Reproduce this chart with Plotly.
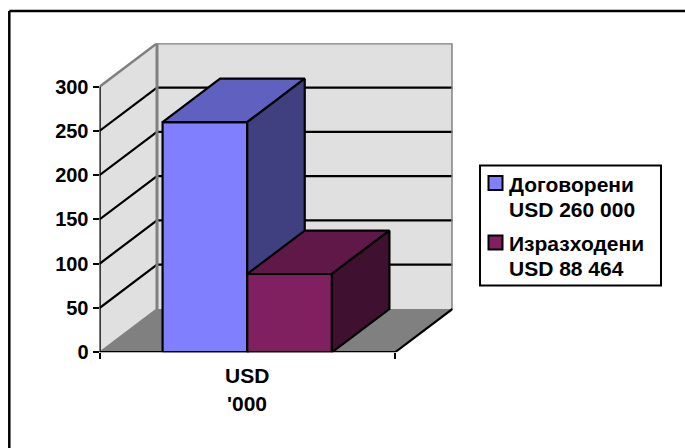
import plotly.graph_objects as go

# Data
category = "USD"
category_sub = "'000"
series_names = ["Договорени", "Изразходени"]
series_labels = ["USD 260 000", "USD 88 464"]
series_values = [260, 88.464]
tick_values = [0, 50, 100, 150, 200, 250, 300]
x_tick_values = [0, 1]

# Colours
front_colors = ["#8080FF", "#802060"]
top_colors = ["#6060C0", "#601848"]
side_colors = ["#404080", "#401030"]
WALL = "#E0E0E0"
FLOOR = "#808080"
EDGE = "#808080"
FONT = "Liberation Sans, Arial, sans-serif"

W, H = 685, 448
L, R, T, B = 99.5, 452.7, 43.3, 352.3   # plot box in pixels
PX_PER_X = 295.5
DX = 57.5 / PX_PER_X                    # depth along x, category units
DY = 49.0                               # depth along y, value units
XMAX = (R - L) / PX_PER_X
YMAX = tick_values[-1] + DY
GAP = 1.49                              # total gap as share of bar width

fig = go.Figure()


def poly(xs, ys, fill=None, line=None, width=2.2):
    kw = dict(x=xs, y=ys, mode="lines", hoverinfo="skip", showlegend=False, cliponaxis=False)
    if fill:
        kw.update(fill="toself", fillcolor=fill)
    kw["line"] = dict(color=line or "rgba(0,0,0,0)", width=width if line else 0, shape="linear")
    fig.add_trace(go.Scatter(**kw))


top = tick_values[-1]
# walls and floor
poly([0, DX, DX, 0, 0], [0, DY, top + DY, top, 0], fill=WALL)
poly([DX, 1 + DX, 1 + DX, DX, DX], [DY, DY, top + DY, top + DY, DY], fill=WALL)
poly([0, DX, 1 + DX, 1, 0], [0, DY, DY, 0, 0], fill=FLOOR)

# gridlines
for v in tick_values[1:-1]:
    poly([0, DX, 1 + DX], [v, v + DY, v + DY], line="#000000")

# wall edges
poly([0, DX, 1 + DX, 1 + DX], [top, top + DY, top + DY, DY], line=EDGE, width=2.5)
poly([DX, DX], [DY, top + DY], line=EDGE, width=3)
poly([0, DX], [0, DY], line=EDGE, width=1.5)

# front edges and axes
poly([1, 1 + DX], [0, DY], line="#000000")
poly([0, 0], [0, top], line="#000000", width=2.5)

# bars
n = len(series_values)
bar_w = 1 / (n + GAP)
start = GAP * bar_w / 2
for i, v in enumerate(series_values):
    x0 = start + i * bar_w
    x1 = x0 + bar_w
    poly([x0, x1, x1, x0, x0], [0, 0, v, v, 0], fill=front_colors[i], line="#000000")
    poly([x0, x1, x1 + DX, x0 + DX, x0], [v, v, v + DY, v + DY, v], fill=top_colors[i], line="#000000")
    poly([x1, x1 + DX, x1 + DX, x1, x1], [0, DY, v + DY, v, 0], fill=side_colors[i], line="#000000")

poly([0, 1], [0, 0], line="#000000", width=2.5)

shapes = [
    # outer frame: top and left edges only
    dict(type="line", xref="paper", yref="paper", x0=9.3 / W, x1=1, y0=1 - 11 / H, y1=1 - 11 / H,
         line=dict(color="#000000", width=2.5)),
    dict(type="line", xref="paper", yref="paper", x0=9.3 / W, x1=9.3 / W, y0=0, y1=1 - 11 / H,
         line=dict(color="#000000", width=2.5)),
    # legend box
    dict(type="rect", xref="paper", yref="paper", x0=480 / W, x1=661 / W, y0=1 - 285.5 / H, y1=1 - 165.5 / H,
         line=dict(color="#000000", width=2), fillcolor="#FFFFFF"),
]
swatch_y = [183, 242.5]
line_y = [(184, 209), (243, 268)]
ann = []
for i in range(n):
    shapes.append(dict(type="rect", xref="paper", yref="paper",
                       x0=488.5 / W, x1=502.5 / W,
                       y0=1 - (swatch_y[i] + 7) / H, y1=1 - (swatch_y[i] - 7) / H,
                       line=dict(color="#000000", width=2), fillcolor=front_colors[i]))
    for txt, y in zip((series_names[i], series_labels[i]), line_y[i]):
        ann.append(dict(text=f"<b>{txt}</b>", xref="paper", yref="paper", x=507 / W, y=1 - y / H,
                        xanchor="left", yanchor="middle", showarrow=False,
                        font=dict(family=FONT, size=21, color="#000000")))

for txt, y in ((category, 375), (category_sub, 403)):
    ann.append(dict(text=f"<b>{txt}</b>", xref="x", yref="paper", x=0.5, y=1 - y / H,
                    xanchor="center", yanchor="middle", showarrow=False,
                    font=dict(family=FONT, size=21, color="#000000")))

fig.update_layout(
    width=W, height=H, autosize=False, margin=dict(l=0, r=0, t=0, b=0, autoexpand=False),
    paper_bgcolor="#FFFFFF", plot_bgcolor="#FFFFFF", showlegend=False,
    shapes=shapes, annotations=ann,
    xaxis=dict(domain=[L / W, R / W], range=[0, XMAX], tickmode="array", tickvals=x_tick_values,
               ticktext=["", ""], ticks="outside", ticklen=6, tickwidth=2, tickcolor="#000000",
               showgrid=False, zeroline=False, showline=False),
    yaxis=dict(domain=[1 - B / H, 1 - T / H], range=[0, YMAX], tickmode="array", tickvals=tick_values,
               ticks="outside", ticklen=6, tickwidth=2, tickcolor="#000000",
               tickfont=dict(family=FONT, size=20, color="#000000", weight="bold"),
               showgrid=False, zeroline=False, showline=False),
)
fig.write_html("out.html", config=dict(displayModeBar=False),
               post_script="document.body.style.margin='0';document.documentElement.style.overflow='hidden';")
